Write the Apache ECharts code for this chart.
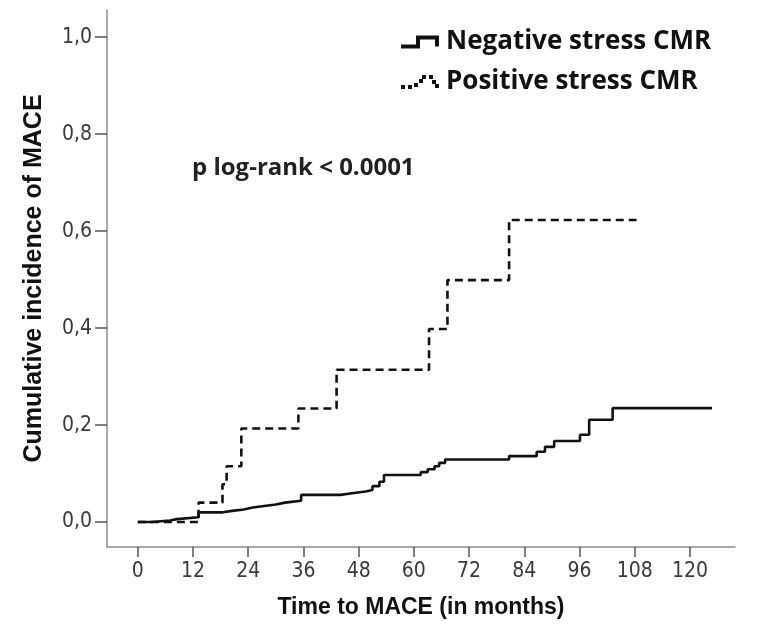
<!DOCTYPE html>
<html>
<head>
<meta charset="utf-8">
<script src="https://cdn.jsdelivr.net/npm/echarts@6/dist/echarts.min.js"></script>
<style>html,body{margin:0;padding:0;background:#fff}#c{width:766px;height:627px}</style>
</head>
<body>
<div id="c"></div>
<script>
// Negative stress CMR (solid) – event times (months) and cumulative incidence
var negTimes  = [0, 3, 7, 8.5, 13.2, 18.5, 20.5, 23, 25, 27.5, 30, 32, 35.5, 44, 47, 49.5, 51, 52.5, 53.5, 61.5, 63, 64.5, 65.5, 66.8, 80.7, 86.7, 88.5, 90.5, 96.1, 98.1, 103.2, 124.8];
var negValues = [0, 0.003, 0.006, 0.010, 0.020, 0.023, 0.026, 0.030, 0.033, 0.036, 0.040, 0.044, 0.056, 0.060, 0.063, 0.066, 0.074, 0.083, 0.097, 0.103, 0.109, 0.115, 0.122, 0.129, 0.136, 0.145, 0.155, 0.167, 0.180, 0.211, 0.235, 0.235];
// Positive stress CMR (dashed)
var posTimes  = [0, 13.2, 18.4, 19.3, 22.5, 34.9, 43.2, 63.3, 67.3, 80.7, 108.4];
var posValues = [0, 0.040, 0.078, 0.115, 0.193, 0.234, 0.314, 0.398, 0.499, 0.623, 0.623];
// Axis ticks
var xTicks = [0, 12, 24, 36, 48, 60, 72, 84, 96, 108, 120];
var yTicks = [0, 0.2, 0.4, 0.6, 0.8, 1.0];
var seriesNames = ['Negative stress CMR', 'Positive stress CMR'];
var annotation = 'p log-rank < 0.0001';

function pairs(t, v) { return t.map(function (x, i) { return [x, v[i]]; }); }

var chart = echarts.init(document.getElementById('c'), null, {renderer: 'canvas'});
var tickFont = {fontFamily: '"Liberation Sans Narrow", "DejaVu Sans Condensed", Arial, sans-serif', fontSize: 21, color: '#3a3a3a'};
chart.setOption({
  backgroundColor: '#ffffff',
  animation: false,
  grid: {left: 107, right: 31, top: 10, bottom: 80, containLabel: false},
  legend: {
    orient: 'vertical', left: 396, top: 24, itemGap: 14,
    itemWidth: 38, itemHeight: 14,
    textStyle: {fontFamily: '"Open Sans", sans-serif', fontWeight: 'bold', fontSize: 26, color: '#111', padding: [0, 0, 0, 2]},
    data: [
      {name: seriesNames[0], icon: 'path://M0,9 H15 V0 H38 V11 H34 V4 H19 V13 H0 Z'},
      {name: seriesNames[1], icon: 'path://M0,10h4v4h-4Z M7,10h4v4h-4Z M13,8h4v4h-4Z M18,4h4v4h-4Z M21,0h4v4h-4Z M28,0h4v4h-4Z M31,5h4v4h-4Z M34,9h4v4h-4Z'}
    ]
  },
  graphic: [{
    type: 'text', left: 192, top: 156,
    style: {text: annotation, fontFamily: '"Open Sans", sans-serif', fontWeight: 'bold', fontSize: 24, fill: '#222'}
  }],
  xAxis: {
    type: 'value', min: -6.7, max: 129.8,
    name: 'Time to MACE (in months)', nameLocation: 'middle', nameGap: 49,
    nameTextStyle: {fontFamily: 'Liberation Sans, Arial, sans-serif', fontWeight: 'bold', fontSize: 23, color: '#111'},
    axisLine: {show: true, onZero: false, lineStyle: {color: '#8c8c8c', width: 1.5}},
    axisTick: {show: true, length: 10, customValues: xTicks, lineStyle: {color: '#555', width: 1.5}},
    axisLabel: Object.assign({customValues: xTicks, margin: 14}, tickFont),
    splitLine: {show: false}
  },
  yAxis: {
    type: 'value', min: -0.0515, max: 1.056,
    name: 'Cumulative incidence of MACE', nameLocation: 'middle', nameGap: 60, nameRotate: 90,
    nameTextStyle: {fontFamily: 'Liberation Sans, Arial, sans-serif', fontWeight: 'bold', fontSize: 25, color: '#111'},
    axisLine: {show: true, onZero: false, lineStyle: {color: '#8c8c8c', width: 1.5}},
    axisTick: {show: true, length: 12, customValues: yTicks, lineStyle: {color: '#555', width: 1.5}},
    axisLabel: Object.assign({customValues: yTicks, margin: 15, formatter: function (v) { return v.toFixed(1).replace('.', ','); }}, tickFont),
    splitLine: {show: false}
  },
  series: [
    {name: seriesNames[0], type: 'line', step: 'end', showSymbol: false, symbol: 'none',
     color: '#111', lineStyle: {color: '#111', width: 2.6, type: 'solid'},
     data: pairs(negTimes, negValues), z: 3},
    {name: seriesNames[1], type: 'line', step: 'end', showSymbol: false, symbol: 'none',
     color: '#111', lineStyle: {color: '#111', width: 2.6, type: [8, 5]},
     data: pairs(posTimes, posValues), z: 2}
  ]
});
</script>
</body>
</html>
